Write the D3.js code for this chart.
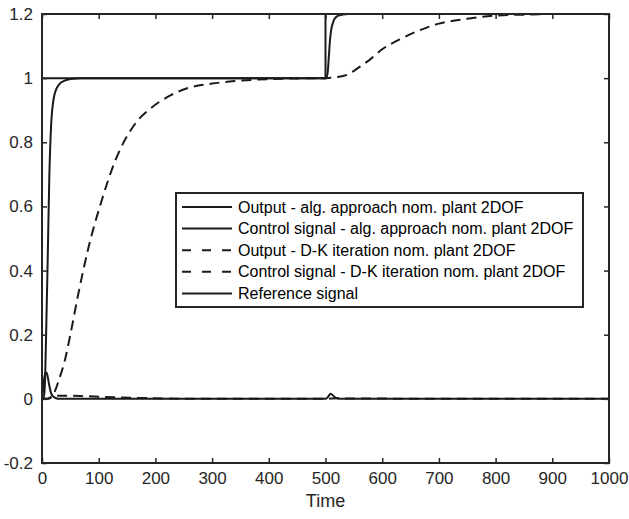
<!DOCTYPE html>
<html>
<head>
<meta charset="utf-8">
<script src="https://cdn.jsdelivr.net/npm/d3@7"></script>
<style>
  body { margin: 0; background: #fff; }
  svg text { font-family: "Liberation Sans", Arial, sans-serif; }
</style>
</head>
<body>
<div id="chart"></div>
<script>
// ---- data ----
const xTicks = [0, 100, 200, 300, 400, 500, 600, 700, 800, 900, 1000];
const yTicks = [-0.2, 0, 0.2, 0.4, 0.6, 0.8, 1, 1.2];

// Output - alg. approach
const outAlgT = [0, 3, 5, 7, 10, 13, 16, 20, 25, 30, 40, 50, 70, 100, 500, 502, 504, 506, 508, 510, 513, 516, 520, 525, 530, 540, 560, 1000];
const outAlgY = [0, 0, 0.04, 0.18, 0.43, 0.7, 0.85, 0.93, 0.965, 0.98, 0.992, 0.997, 1, 1, 1, 1.003, 1.02, 1.07, 1.12, 1.15, 1.172, 1.185, 1.192, 1.196, 1.198, 1.2, 1.2, 1.2];

// Control signal - alg. approach
const ctlAlgT = [0, 2, 4, 6, 8, 10, 13, 16, 20, 25, 30, 40, 500, 503, 506, 509, 512, 516, 520, 530, 1000];
const ctlAlgY = [0, 0.03, 0.065, 0.08, 0.082, 0.07, 0.04, 0.018, 0.007, 0.002, 0, 0, 0, 0.003, 0.01, 0.016, 0.013, 0.006, 0.002, 0, 0];

// Output - D-K iteration
const outDkT = [0, 10, 15, 23, 30, 40, 50, 64, 82, 105, 129, 164, 193, 220, 252, 300, 335, 400, 450, 500, 520, 540, 560, 580, 600, 630, 660, 700, 750, 800, 850, 900, 1000];
const outDkY = [0, 0, 0.003, 0.025, 0.06, 0.118, 0.2, 0.327, 0.472, 0.617, 0.742, 0.857, 0.908, 0.94, 0.966, 0.983, 0.99, 0.997, 0.999, 1, 1.003, 1.012, 1.035, 1.06, 1.09, 1.12, 1.145, 1.17, 1.185, 1.195, 1.198, 1.2, 1.2];

// Control signal - D-K iteration
const ctlDkT = [0, 10, 15, 20, 40, 80, 130, 170, 220, 300, 500, 510, 520, 540, 1000];
const ctlDkY = [0, 0, 0.005, 0.01, 0.01, 0.008, 0.005, 0.003, 0.001, 0, 0, 0.001, 0.002, 0.001, 0];

// Reference signal
const refT = [0, 0, 500, 500, 1000];
const refY = [0, 1, 1, 1.2, 1.2];

const legendLabels = [
  "Output - alg. approach nom. plant 2DOF",
  "Control signal - alg. approach nom. plant 2DOF",
  "Output - D-K iteration nom. plant 2DOF",
  "Control signal - D-K iteration nom. plant 2DOF",
  "Reference signal"
];

// ---- setup ----
const W = 629, H = 519;
const margin = {top: 14, right: 20, bottom: 56, left: 42};
const width = W - margin.left - margin.right,
      height = H - margin.top - margin.bottom;
const axisColor = "#262626";

const svg = d3.select("#chart").append("svg")
  .attr("width", W).attr("height", H);
const g = svg.append("g")
  .attr("transform", "translate(" + margin.left + "," + margin.top + ")");

const x = d3.scaleLinear().domain([0, 1000]).range([0, width]);
const y = d3.scaleLinear().domain([-0.2, 1.2]).range([height, 0]);

const zip = (ts, ys) => ts.map((t, i) => ({t: t, v: ys[i]}));
const series = [
  {data: zip(outAlgT, outAlgY), dash: null, curve: d3.curveMonotoneX},
  {data: zip(ctlAlgT, ctlAlgY), dash: null, curve: d3.curveMonotoneX},
  {data: zip(outDkT, outDkY), dash: "10,6", curve: d3.curveMonotoneX},
  {data: zip(ctlDkT, ctlDkY), dash: "10,6", curve: d3.curveMonotoneX},
  {data: zip(refT, refY), dash: null, curve: d3.curveLinear}
];

// clip to plot area
g.append("clipPath").attr("id", "clip")
  .append("rect").attr("width", width).attr("height", height);

// lines
series.forEach(s => {
  const line = d3.line().x(d => x(d.t)).y(d => y(d.v)).curve(s.curve);
  g.append("path")
    .datum(s.data)
    .attr("clip-path", "url(#clip)")
    .attr("fill", "none")
    .attr("stroke", "#1a1a1a")
    .attr("stroke-width", 2)
    .attr("stroke-dasharray", s.dash)
    .attr("d", line);
});

// axes (MATLAB style, ticks inward, box on)
const tickLen = 5;
const styleAxis = sel => {
  sel.select(".domain").remove();
  sel.selectAll("line").attr("stroke", axisColor).attr("stroke-width", 1.5);
  sel.selectAll("text").attr("fill", axisColor).style("font-size", "17px");
};

g.append("g")
  .attr("transform", "translate(0," + height + ")")
  .call(d3.axisBottom(x).tickValues(xTicks).tickSizeInner(-tickLen).tickPadding(9).tickFormat(d => String(d)))
  .call(styleAxis);
g.append("g")
  .call(d3.axisTop(x).tickValues(xTicks).tickSizeInner(-tickLen).tickFormat(""))
  .call(styleAxis);
g.append("g")
  .call(d3.axisLeft(y).tickValues(yTicks).tickSizeInner(-tickLen).tickPadding(9).tickFormat(d => String(+d.toFixed(1))))
  .call(styleAxis);
g.append("g")
  .attr("transform", "translate(" + width + ",0)")
  .call(d3.axisRight(y).tickValues(yTicks).tickSizeInner(-tickLen).tickFormat(""))
  .call(styleAxis);

// box
g.append("rect")
  .attr("width", width).attr("height", height)
  .attr("fill", "none").attr("stroke", axisColor).attr("stroke-width", 2);

// x label
g.append("text")
  .attr("x", width / 2).attr("y", height + 44)
  .attr("text-anchor", "middle")
  .attr("fill", axisColor)
  .style("font-size", "18px")
  .text("Time");

// legend
const lg = svg.append("g").attr("transform", "translate(176,193)");
lg.append("rect")
  .attr("width", 407).attr("height", 114)
  .attr("fill", "#fff").attr("stroke", axisColor).attr("stroke-width", 2);
legendLabels.forEach((lab, i) => {
  const yy = 14 + i * 21.6;
  lg.append("line")
    .attr("x1", 6).attr("x2", 56).attr("y1", yy).attr("y2", yy)
    .attr("stroke", "#1a1a1a").attr("stroke-width", 2)
    .attr("stroke-dasharray", series[i].dash ? "9,11" : null);
  lg.append("text")
    .attr("x", 62).attr("y", yy).attr("dy", "0.35em")
    .attr("fill", "#000")
    .style("font-size", "16px")
    .text(lab);
});
</script>
</body>
</html>
